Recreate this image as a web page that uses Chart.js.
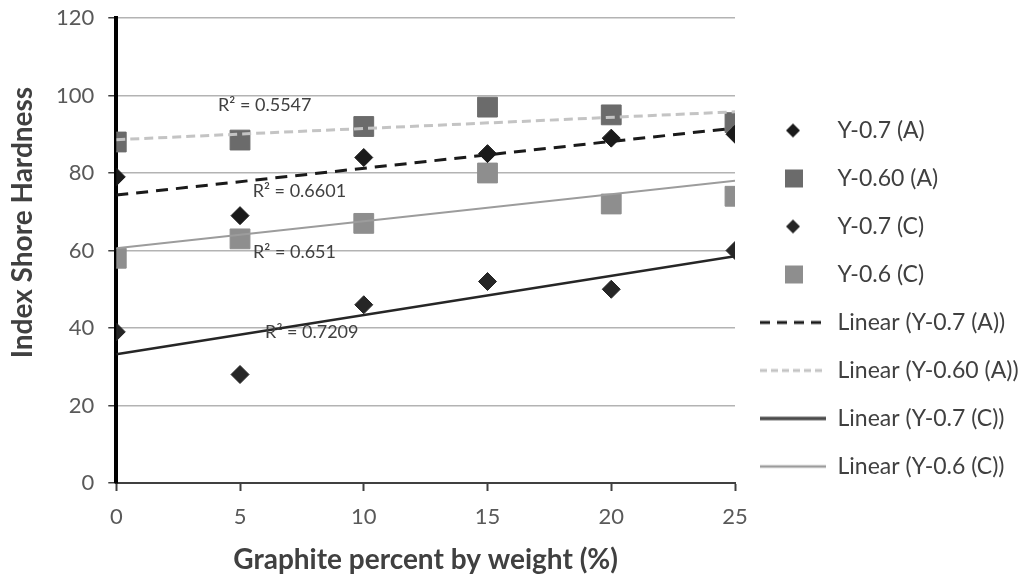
<!DOCTYPE html>
<html>
<head>
<meta charset="utf-8">
<script src="https://cdn.jsdelivr.net/npm/chart.js@4/dist/chart.umd.min.js"></script>
<style>
  html, body { margin: 0; padding: 0; background: #fff; }
  #hardness { display: block; }
</style>
</head>
<body>
<canvas id="hardness" width="1027" height="580"></canvas>
<script>
// graphite content (% by weight)
const graphite = [0, 5, 10, 15, 20, 25];

// shore hardness index for each mix
const y07A = [79, 69, 84, 85, 89, 90];
const y060A = [88, 88.5, 92, 97, 95, 93];
const y07C = [39, 28, 46, 52, 50, 60];
const y06C = [58, 63, 67, 80, 72, 74];

// linear trend lines, value at 0 % and at 25 %
const trendX = [0, 25];
const trend07A = [74.3, 91.6];
const trend060A = [88.6, 95.8];
const trend07C = [33.2, 58.5];
const trend06C = [60.6, 78.0];

// R² of each fit
const r2Labels = ['R\u00b2 = 0.5547', 'R\u00b2 = 0.6601', 'R\u00b2 = 0.651', 'R\u00b2 = 0.7209'];

const yTitle = 'Index Shore Hardness';
const axisFont = 'Lato';

function points(xs, ys) {
  return xs.map((x, i) => ({ x: x, y: ys[i] }));
}

// little canvases used as legend swatches
function swatch(draw) {
  const c = document.createElement('canvas');
  c.width = 66;
  c.height = 22;
  const g = c.getContext('2d');
  draw(g);
  return c;
}

function diamondSwatch(color) {
  return swatch(g => {
    g.fillStyle = color;
    g.beginPath();
    g.moveTo(33, 4);
    g.lineTo(40, 11);
    g.lineTo(33, 18);
    g.lineTo(26, 11);
    g.closePath();
    g.fill();
  });
}

function squareSwatch(color) {
  return swatch(g => {
    g.fillStyle = color;
    g.fillRect(25, 2, 18, 18);
  });
}

function lineSwatch(color, width, dash) {
  return swatch(g => {
    g.strokeStyle = color;
    g.lineWidth = width;
    g.setLineDash(dash);
    g.beginPath();
    g.moveTo(0, 11);
    g.lineTo(66, 11);
    g.stroke();
  });
}

const legendSwatches = [
  diamondSwatch('#1a1a1a'),
  squareSwatch('#6b6b6b'),
  diamondSwatch('#262626'),
  squareSwatch('#8e8e8e'),
  lineSwatch('#1a1a1a', 3, [10, 7]),
  lineSwatch('#c4c4c4', 3, [7, 4]),
  lineSwatch('#4a4a4a', 3.5, []),
  lineSwatch('#9c9c9c', 2.5, [])
];

// R² text next to each trend line, placed in data units
const r2Spots = [[6.0, 97.6], [7.4, 75.3], [7.2, 59.6], [7.9, 38.8]];

const r2Plugin = {
  id: 'r2Text',
  afterDatasetsDraw(chart) {
    const { ctx, scales } = chart;
    ctx.save();
    ctx.font = '18px ' + axisFont;
    ctx.fillStyle = '#404040';
    ctx.textAlign = 'center';
    ctx.textBaseline = 'middle';
    r2Labels.forEach((t, i) => {
      const [dx, dy] = r2Spots[i];
      ctx.fillText(t, scales.x.getPixelForValue(dx), scales.y.getPixelForValue(dy));
    });
    ctx.restore();
  }
};

// vertical axis title sits a little above the middle of the axis
const yTitlePlugin = {
  id: 'yTitle',
  afterDraw(chart) {
    const { ctx, chartArea } = chart;
    ctx.save();
    ctx.translate(23, chartArea.top + (chartArea.bottom - chartArea.top) * 0.44);
    ctx.rotate(-Math.PI / 2);
    ctx.font = 'bold 28px ' + axisFont;
    ctx.fillStyle = '#404040';
    ctx.textAlign = 'center';
    ctx.textBaseline = 'middle';
    ctx.fillText(yTitle, 0, 0);
    ctx.restore();
  }
};

const ctx = document.getElementById('hardness').getContext('2d');

const chart = new Chart(ctx, {
  type: 'scatter',
  data: {
    datasets: [
      {
        label: 'Y-0.7 (A)',
        data: points(graphite, y07A),
        pointStyle: 'rectRot',
        pointRadius: 9,
        backgroundColor: '#1a1a1a',
        borderColor: '#1a1a1a',
        order: 2
      },
      {
        label: 'Y-0.60 (A)',
        data: points(graphite, y060A),
        pointStyle: 'rect',
        pointRadius: 14,
        backgroundColor: '#6b6b6b',
        borderColor: '#6b6b6b',
        order: 3
      },
      {
        label: 'Y-0.7 (C)',
        data: points(graphite, y07C),
        pointStyle: 'rectRot',
        pointRadius: 9,
        backgroundColor: '#262626',
        borderColor: '#262626',
        order: 2
      },
      {
        label: 'Y-0.6 (C)',
        data: points(graphite, y06C),
        pointStyle: 'rect',
        pointRadius: 14,
        backgroundColor: '#8e8e8e',
        borderColor: '#8e8e8e',
        order: 3
      },
      {
        label: 'Linear (Y-0.7 (A))',
        data: points(trendX, trend07A),
        showLine: true,
        pointRadius: 0,
        borderColor: '#1a1a1a',
        borderWidth: 3,
        borderDash: [12, 8],
        order: 0
      },
      {
        label: 'Linear (Y-0.60 (A))',
        data: points(trendX, trend060A),
        showLine: true,
        pointRadius: 0,
        borderColor: '#c4c4c4',
        borderWidth: 3,
        borderDash: [9, 5],
        order: 0
      },
      {
        label: 'Linear (Y-0.7 (C))',
        data: points(trendX, trend07C),
        showLine: true,
        pointRadius: 0,
        borderColor: '#262626',
        borderWidth: 2.5,
        order: 0
      },
      {
        label: 'Linear (Y-0.6 (C))',
        data: points(trendX, trend06C),
        showLine: true,
        pointRadius: 0,
        borderColor: '#9c9c9c',
        borderWidth: 2,
        order: 0
      }
    ]
  },
  options: {
    responsive: false,
    animation: false,
    layout: {
      padding: { top: 0, left: 42, right: 0, bottom: 3 }
    },
    plugins: {
      tooltip: { enabled: false },
      legend: {
        position: 'right',
        align: 'start',
        maxWidth: 292,
        title: { display: true, text: '', padding: { top: 82, bottom: 0 }, font: { size: 10 } },
        labels: {
          usePointStyle: true,
          pointStyleWidth: 66,
          padding: 25,
          color: '#404040',
          font: { family: axisFont, size: 23 },
          generateLabels(chart) {
            return chart.data.datasets.map((ds, i) => ({
              text: ds.label,
              pointStyle: legendSwatches[i],
              fontColor: '#404040',
              hidden: false,
              datasetIndex: i,
              lineWidth: 0
            }));
          }
        }
      }
    },
    scales: {
      x: {
        type: 'linear',
        min: 0,
        max: 25,
        ticks: {
          stepSize: 5,
          color: '#595959',
          padding: 13,
          font: { family: axisFont, size: 22 }
        },
        grid: {
          drawOnChartArea: false,
          tickLength: 8,
          tickColor: '#404040',
          tickWidth: 2
        },
        border: { color: '#404040', width: 2 },
        title: {
          display: true,
          text: 'Graphite percent by weight (%)',
          color: '#404040',
          padding: { top: 0, bottom: 0 },
          font: { family: axisFont, size: 28, weight: 'bold' }
        }
      },
      y: {
        min: 0,
        max: 120,
        afterFit(scale) {
          // keep the top of the plot close to the canvas edge
          scale.paddingTop = 18;
        },
        ticks: {
          stepSize: 20,
          color: '#595959',
          padding: 14,
          font: { family: axisFont, size: 22 }
        },
        grid: {
          color: '#b3b3b3',
          lineWidth: 1.5,
          tickLength: 8,
          tickColor: '#404040'
        },
        border: { color: '#000', width: 4 }
      }
    }
  },
  plugins: [r2Plugin, yTitlePlugin]
});
</script>
</body>
</html>
